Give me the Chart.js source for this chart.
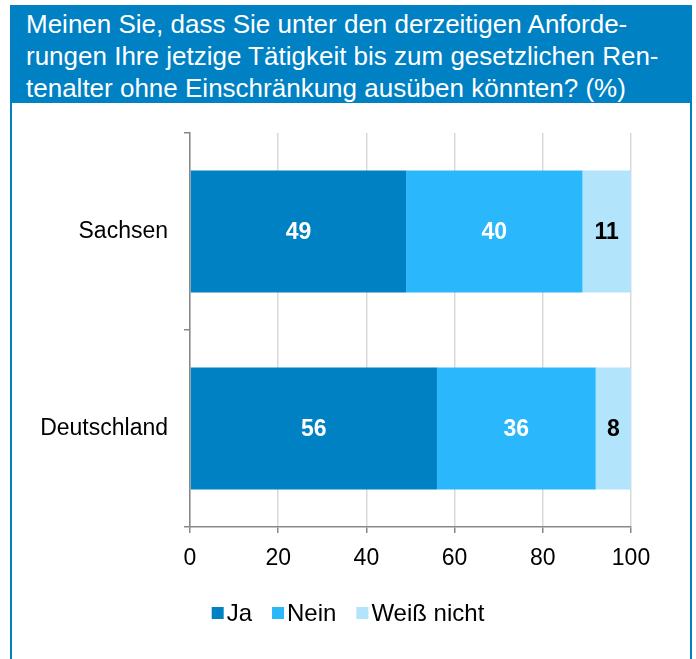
<!DOCTYPE html>
<html>
<head>
<meta charset="utf-8">
<script src="https://cdn.jsdelivr.net/npm/chart.js@4"></script>
<style>
  body { margin: 0; background: #fff; font-family: "Liberation Sans", Arial, sans-serif; }
  #rahmen { position: absolute; left: 10px; top: 5px; width: 678px; height: 660px; border: 2px solid #0081c4; border-bottom: none; }
  #titel { position: absolute; left: 10px; top: 5px; width: 682px; height: 98px; background: #0081c4; color: #fff;
           font-size: 26px; line-height: 32px; padding: 3px 0 0 16px; box-sizing: border-box; white-space: nowrap; }
  #wrap { position: absolute; left: 0; top: 0; width: 696px; height: 659px; }
</style>
</head>
<body>
<div id="rahmen"></div>
<div id="titel">Meinen Sie, dass Sie unter den derzeitigen Anforde-<br>rungen Ihre jetzige Tätigkeit bis zum gesetzlichen Ren-<br>tenalter ohne Einschränkung ausüben könnten? (%)</div>
<div id="wrap"><canvas id="grafik" width="696" height="659"></canvas></div>
<script>
// Daten
const regionen = ["Sachsen", "Deutschland"];
const serien = ["Ja", "Nein", "Weiß nicht"];
const ja = [49, 56];
const nein = [40, 36];
const weissNicht = [11, 8];
const achsenTicks = [0, 20, 40, 60, 80, 100];

const farben = ["#0081c4", "#2ab7fc", "#b2e4fc"];
const textFarben = ["#ffffff", "#ffffff", "#000000"];
const schrift = "'Liberation Sans', Arial, sans-serif";

// Werte in die Balken schreiben
const wertePlugin = {
    id: "werte",
    afterDatasetsDraw(chart) {
        const ctx = chart.ctx;
        ctx.save();
        ctx.font = "bold 23px " + schrift;
        ctx.textAlign = "center";
        ctx.textBaseline = "middle";
        chart.data.datasets.forEach((ds, i) => {
            chart.getDatasetMeta(i).data.forEach((bar, j) => {
                const p = bar.getProps(["x", "y", "base"], true);
                ctx.fillStyle = textFarben[i];
                ctx.fillText(ds.data[j], (p.x + p.base) / 2, p.y + 1);
            });
        });
        ctx.restore();
    }
};

// Legende unten, Kästchen dicht am Text
const legendePlugin = {
    id: "legende",
    afterDraw(chart) {
        const ctx = chart.ctx;
        const box = 12, abstand = 3, luecke = 20, y = 613;
        ctx.save();
        ctx.font = "24px " + schrift;
        ctx.textBaseline = "middle";
        const ds = chart.data.datasets;
        const breiten = ds.map(d => box + abstand + ctx.measureText(d.label).width);
        const gesamt = breiten.reduce((a, b) => a + b, 0) + luecke * (ds.length - 1);
        let x = chart.width / 2 - gesamt / 2;
        ds.forEach((d, i) => {
            ctx.fillStyle = d.backgroundColor;
            ctx.fillRect(x, y - box / 2, box, box);
            ctx.fillStyle = "#000";
            ctx.fillText(d.label, x + box + abstand, y + 1);
            x += breiten[i] + luecke;
        });
        ctx.restore();
    }
};

Chart.defaults.font.family = schrift;
Chart.defaults.color = "#000";

new Chart(document.getElementById("grafik"), {
    type: "bar",
    data: {
        labels: regionen,
        datasets: [
            { label: serien[0], data: ja, backgroundColor: farben[0] },
            { label: serien[1], data: nein, backgroundColor: farben[1] },
            { label: serien[2], data: weissNicht, backgroundColor: farben[2] }
        ]
    },
    options: {
        indexAxis: "y",
        responsive: false,
        animation: false,
        barPercentage: 1,
        categoryPercentage: 0.62,
        layout: { padding: { left: 20, right: 65, top: 133, bottom: 76 } },
        scales: {
            x: {
                stacked: true,
                min: 0,
                max: 100,
                afterBuildTicks: (s) => { s.ticks = achsenTicks.map(v => ({ value: v })); },
                afterFit: (s) => { s.height = 56; },
                ticks: { font: { size: 23 }, padding: 12, color: "#000" },
                grid: { color: "#d9d9d9", tickColor: "#888", tickLength: 6, lineWidth: 1.5 },
                border: { color: "#888", width: 1.5 }
            },
            y: {
                stacked: true,
                afterFit: (s) => { s.width = 170; },
                ticks: { font: { size: 23 }, padding: 16, color: "#000" },
                grid: { offset: true, drawOnChartArea: false, tickColor: "#888", tickLength: 6, lineWidth: 1.5 },
                border: { color: "#888", width: 1.5 }
            }
        },
        plugins: {
            legend: { display: false },
            tooltip: { enabled: false }
        }
    },
    plugins: [wertePlugin, legendePlugin]
});
</script>
</body>
</html>
